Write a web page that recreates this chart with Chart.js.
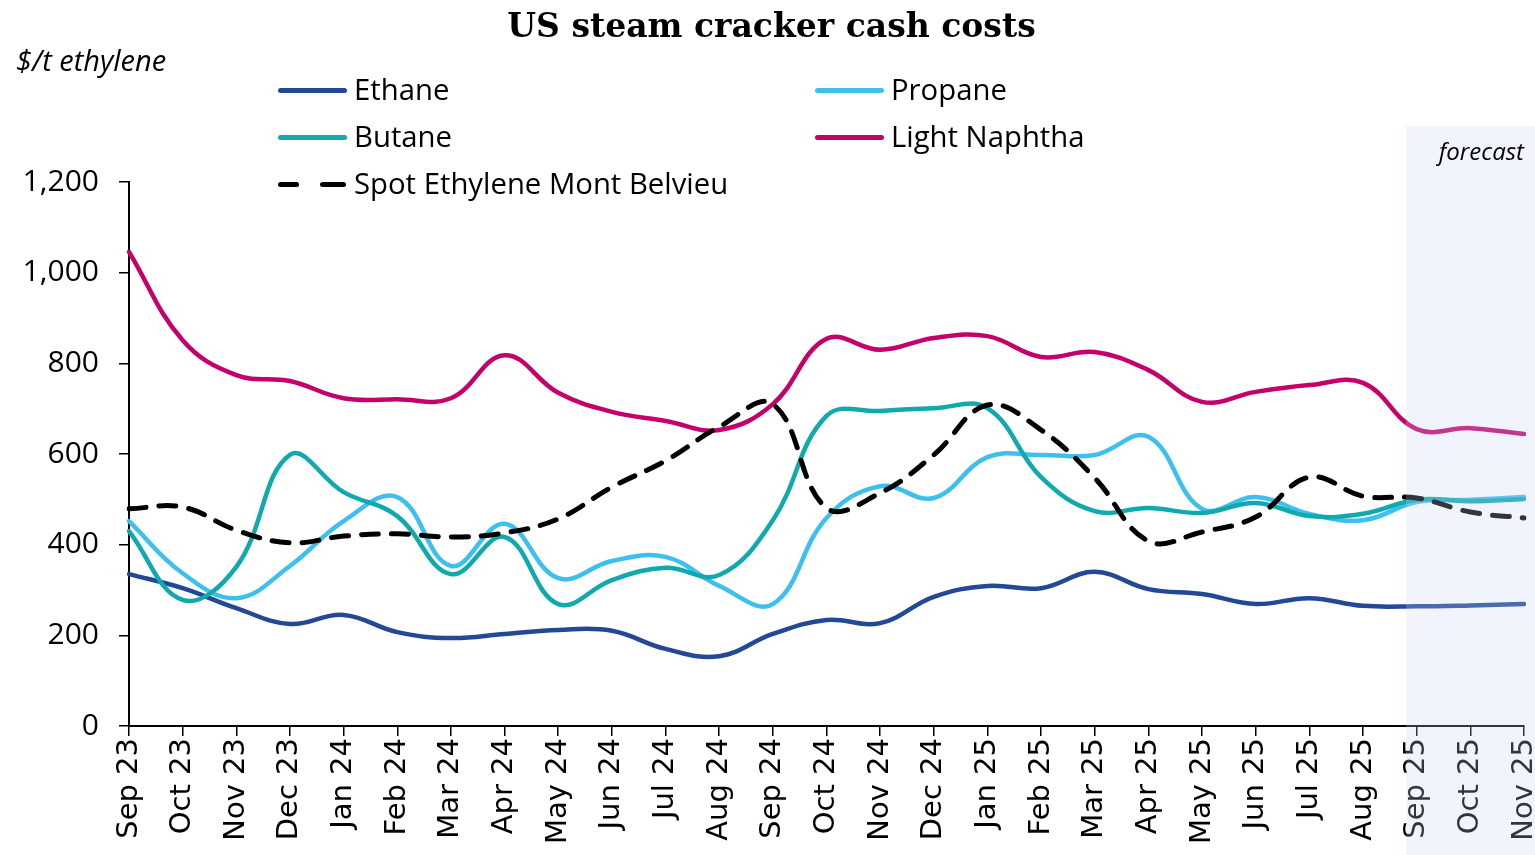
<!DOCTYPE html>
<html>
<head>
<meta charset="utf-8">
<script src="https://cdn.jsdelivr.net/npm/chart.js@4"></script>
<style>
  body { margin: 0; background: #fff; }
  #wrap { position: relative; width: 1535px; height: 855px; overflow: hidden; }
  .txt { position: absolute; line-height: 1; white-space: nowrap; color: #000; }
  .title { left: 0; width: 1543px; text-align: center; top: 6px; font: bold 33px "DejaVu Serif"; }
  .unit { left: 16px; top: 40px; font: italic 29px "Open Sans"; }
  .fc { right: 11px; top: 134px; font: italic 24px "Open Sans"; }
  .lg { font: 29.3px "Open Sans"; }
  .sw { position: absolute; height: 5px; border-radius: 3px; }
</style>
</head>
<body>
<div id="wrap">
  <canvas id="chart" width="1535" height="855"></canvas>
  <div class="txt title">US steam cracker cash costs</div>
  <div class="txt unit">$/t ethylene</div>
  <div class="txt fc">forecast</div>
  <div id="legend"></div>
</div>
<script>
// months on the x axis
const months = [
  "Sep 23", "Oct 23", "Nov 23", "Dec 23", "Jan 24", "Feb 24", "Mar 24", "Apr 24", "May 24",
  "Jun 24", "Jul 24", "Aug 24", "Sep 24", "Oct 24", "Nov 24", "Dec 24", "Jan 25", "Feb 25",
  "Mar 25", "Apr 25", "May 25", "Jun 25", "Jul 25", "Aug 25", "Sep 25", "Oct 25", "Nov 25"
];
const forecastFrom = "Sep 25";

// $/t ethylene
const ethane = [335, 304, 260, 225, 245, 207, 194, 203, 212, 210, 170, 154, 203, 234, 227, 285, 309, 304, 340, 302, 291, 269, 282, 265, 264, 266, 269];
const propane = [452, 337, 282, 353, 452, 505, 353, 446, 326, 364, 373, 309, 269, 459, 529, 503, 593, 598, 598, 638, 479, 505, 468, 454, 494, 499, 505];
const butane = [430, 278, 351, 598, 516, 463, 335, 417, 269, 322, 349, 333, 454, 684, 695, 701, 701, 549, 474, 481, 470, 492, 463, 468, 499, 496, 501];
const naphtha = [1046, 851, 774, 761, 723, 721, 723, 818, 735, 693, 673, 653, 710, 854, 830, 856, 860, 814, 825, 785, 715, 737, 752, 757, 655, 657, 644];
const ethyleneSpot = [479, 483, 432, 404, 419, 424, 417, 426, 457, 527, 585, 660, 710, 481, 514, 598, 708, 653, 547, 408, 428, 461, 549, 507, 503, 472, 459];

const yTicks = [0, 200, 400, 600, 800, 1000, 1200];

const series = [
  { label: "Ethane", data: ethane, color: "#224896", col: 0, row: 0 },
  { label: "Propane", data: propane, color: "#3DC0EF", col: 1, row: 0 },
  { label: "Butane", data: butane, color: "#10A9AE", col: 0, row: 1 },
  { label: "Light Naphtha", data: naphtha, color: "#C4006C", col: 1, row: 1 },
  { label: "Spot Ethylene Mont Belvieu", data: ethyleneSpot, color: "#000000", col: 0, row: 2, dash: true },
];

// legend (two columns)
const legend = document.getElementById("legend");
const colX = [278, 815];
const rowY = [90, 137, 184];
series.forEach(s => {
  const x = colX[s.col], y = rowY[s.row];
  if (s.dash) {
    legend.innerHTML += `<div class="sw" style="left:${x}px;top:${y - 2.5}px;width:21px;background:${s.color}"></div>`;
    legend.innerHTML += `<div class="sw" style="left:${x + 42}px;top:${y - 2.5}px;width:26px;background:${s.color}"></div>`;
  } else {
    legend.innerHTML += `<div class="sw" style="left:${x}px;top:${y - 2.5}px;width:69px;background:${s.color}"></div>`;
  }
  legend.innerHTML += `<div class="txt lg" style="left:${x + 76}px;top:${y - 21}px">${s.label}</div>`;
});

// forecast shading, painted over everything like the original
const forecastShade = {
  id: "forecastShade",
  afterDraw(chart) {
    const x = chart.scales.x;
    const i = months.indexOf(forecastFrom);
    const step = x.getPixelForValue(i) - x.getPixelForValue(i - 1);
    const left = x.getPixelForValue(i) - 0.2 * step;
    const ctx = chart.ctx;
    ctx.save();
    ctx.fillStyle = "rgba(199, 211, 247, 0.25)";
    ctx.fillRect(left, 126, chart.width - left, chart.height - 126);
    ctx.restore();
  }
};

new Chart(document.getElementById("chart"), {
  type: "line",
  data: {
    labels: months,
    datasets: series.map((s, i) => ({
      label: s.label,
      data: s.data,
      borderColor: s.color,
      backgroundColor: s.color,
      borderWidth: s.dash ? 5 : 4.5,
      borderDash: s.dash ? [17, 13] : [],
      borderCapStyle: "round",
      pointRadius: 0,
      tension: 0.4,
      order: series.length - i,
    })),
  },
  options: {
    responsive: false,
    animation: false,
    layout: { padding: { top: 182, right: 11, left: 0, bottom: 0 } },
    plugins: { legend: { display: false }, title: { display: false }, tooltip: { enabled: false } },
    scales: {
      x: {
        offset: false,
        afterFit: s => { s.height = 129; s.paddingLeft = 0; s.paddingRight = 0; },
        border: { display: true, color: "#000", width: 2 },
        grid: { drawOnChartArea: false, color: "#000", lineWidth: 1.5, tickLength: 10 },
        ticks: {
          autoSkip: false, minRotation: 90, maxRotation: 90, padding: 2,
          color: "#000", font: { family: "DejaVu Sans", size: 29 },
        },
      },
      y: {
        min: 0, max: 1200,
        afterFit: s => { s.width = 129; },
        afterBuildTicks: s => { s.ticks = yTicks.map(v => ({ value: v })); },
        border: { display: true, color: "#000", width: 2 },
        grid: { drawOnChartArea: false, color: "#000", lineWidth: 1.5, tickLength: 10 },
        ticks: {
          padding: 20, color: "#000", font: { family: "Open Sans", size: 30 },
          callback: v => v.toLocaleString("en-US"),
        },
      },
    },
  },
  plugins: [forecastShade],
});
</script>
</body>
</html>
